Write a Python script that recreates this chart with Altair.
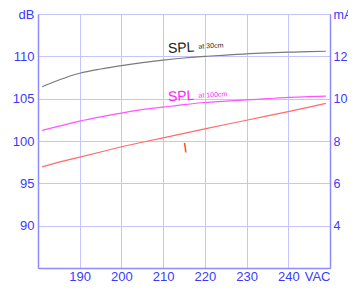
import altair as alt
import pandas as pd

vac = [181, 185, 190, 195, 200, 205, 210, 215, 220, 225, 230, 235, 240, 245, 249]
spl_30cm = [106.4, 107.2, 108.0, 108.5, 108.9, 109.25, 109.55, 109.8, 110.0, 110.15, 110.3, 110.4, 110.5, 110.55, 110.6]
spl_100cm = [101.25, 101.75, 102.35, 102.85, 103.3, 103.7, 104.0, 104.3, 104.55, 104.7, 104.85, 105.0, 105.15, 105.25, 105.3]
current_ma = [6.78, 7.0, 7.24, 7.48, 7.73, 7.94, 8.15, 8.36, 8.57, 8.78, 8.98, 9.19, 9.39, 9.6, 9.78]

label_text = ["SPL", "at 30cm", "SPL", "at 100cm", "I"]
label_vac = [211.2, 218.5, 211.2, 218.5, 215.0]
label_db = [110.4, 110.9, 104.7, 105.1, 98.6]
label_size = [14, 7, 14, 7, 14]
label_color = ["#222222", "#222222", "#ff22ff", "#ff22ff", "#ff3030"]
label_angle = [357, 357, 357, 357, 352]

x_ticks = [180, 190, 200, 210, 220, 230, 240, 250]
db_ticks = [85, 90, 95, 100, 105, 110, 115]
ma_ticks = [2, 4, 6, 8, 10, 12, 14]

spl_df = pd.DataFrame({
    "VAC": vac * 2,
    "dB": spl_30cm + spl_100cm,
    "series": ["SPL30"] * len(vac) + ["SPL100"] * len(vac),
})
i_df = pd.DataFrame({"VAC": vac, "mA": current_ma, "series": ["I"] * len(vac)})
lab_df = pd.DataFrame({
    "VAC": label_vac, "dB": label_db, "text": label_text,
    "size": label_size, "color": label_color, "angle": label_angle,
})

xscale = alt.Scale(domain=[180, 250], nice=False, zero=False)
xaxis = alt.Axis(values=x_ticks, title=None, grid=True, labelPadding=2,
                 labelExpr="datum.value == 250 ? 'VAC' : (datum.value == 180 ? '' : datum.label)")
dbscale = alt.Scale(domain=[85, 115], nice=False, zero=False)
color_scale = alt.Scale(domain=["SPL30", "SPL100", "I"], range=["#7a7a7a", "#ff55ff", "#ff6a6a"])

spl_lines = alt.Chart(spl_df).mark_line(strokeWidth=1.2, interpolate="monotone").encode(
    x=alt.X("VAC:Q", scale=xscale, axis=xaxis),
    y=alt.Y("dB:Q", scale=dbscale, axis=alt.Axis(
        values=db_ticks, title=None, orient="left",
        labelExpr="datum.value == 115 ? 'dB' : (datum.value == 85 ? '' : datum.label)")),
    color=alt.Color("series:N", scale=color_scale, legend=None),
    detail="series:N",
)

i_line = alt.Chart(i_df).mark_line(strokeWidth=1.2).encode(
    x=alt.X("VAC:Q", scale=xscale, axis=xaxis),
    y=alt.Y("mA:Q", scale=alt.Scale(domain=[2, 14], nice=False, zero=False), axis=alt.Axis(
        values=ma_ticks, title=None, orient="right", grid=False, labelPadding=3, labelFontSize=12.5,
        labelExpr="datum.value == 14 ? 'mA' : (datum.value == 2 ? '' : datum.label)")),
    color=alt.Color("series:N", scale=color_scale, legend=None),
)

labels = alt.Chart(lab_df).mark_text(align="left", baseline="alphabetic", font="Liberation Sans").encode(
    x=alt.X("VAC:Q", scale=xscale, axis=xaxis),
    y=alt.Y("dB:Q", scale=dbscale, axis=None),
    text="text:N",
    size=alt.Size("size:Q", scale=None, legend=None),
    color=alt.Color("color:N", scale=None, legend=None),
    angle=alt.Angle("angle:Q", scale=None),
)

chart = alt.layer(spl_lines, i_line, labels).resolve_scale(
    y="independent", color="independent", size="independent", angle="independent"
).properties(
    width=292, height=254,
    autosize=alt.AutoSizeParams(type="none"),
    padding={"left": 30, "top": 6, "right": 18, "bottom": 15},
    background="white",
).configure_axis(
    labelColor="#3a3aff", labelFont="Liberation Sans", labelFontSize=13,
    gridColor="#c4c4ff", gridWidth=1, domainColor="#8c8cff", domainWidth=1.5,
    ticks=False, labelPadding=4,
).configure_view(stroke="#c4c4ff")

chart.save("out.html", embed_options={"renderer": "svg", "actions": False})
